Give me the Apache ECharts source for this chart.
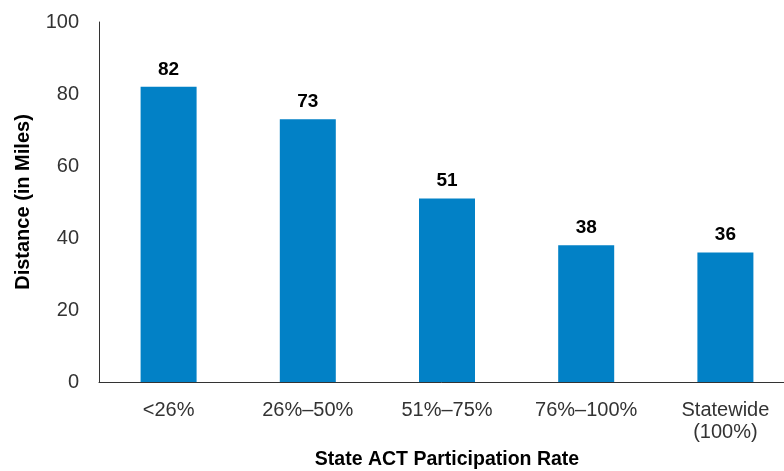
<!DOCTYPE html>
<html>
<head>
<meta charset="utf-8">
<script src="https://cdn.jsdelivr.net/npm/echarts@6/dist/echarts.min.js"></script>
<style>html,body{margin:0;padding:0;background:#fff}#c{width:784px;height:471px}</style>
</head>
<body>
<div id="c"></div>
<script>
var categories = ['<26%', '26%\u201350%', '51%\u201375%', '76%\u2013100%', 'Statewide\n(100%)'];
var distances = [82, 73, 51, 38, 36];
var yTicks = [0, 20, 40, 60, 80, 100];

var chart = echarts.init(document.getElementById('c'));
var font = '"Liberation Sans", Arial, Helvetica, sans-serif';
chart.setOption({
  animation: false,
  backgroundColor: '#fff',
  grid: { left: 99, top: 22, height: 360, width: 696, outerBoundsMode: 'none', containLabel: false },
  xAxis: {
    type: 'category',
    data: categories,
    name: 'State ACT Participation Rate',
    nameLocation: 'middle',
    nameGap: 68,
    nameTextStyle: { fontFamily: font, fontSize: 19.5, fontWeight: 'bold', color: '#000' },
    axisLine: { lineStyle: { color: '#333', width: 1 } },
    axisTick: { show: false },
    axisLabel: { fontFamily: font, fontSize: 20, color: '#333', margin: 17, lineHeight: 22, interval: 0 }
  },
  yAxis: {
    type: 'value',
    min: yTicks[0],
    max: yTicks[yTicks.length - 1],
    interval: yTicks[1] - yTicks[0],
    name: 'Distance (in Miles)',
    nameLocation: 'middle',
    nameGap: 66,
    nameRotate: 90,
    nameTextStyle: { fontFamily: font, fontSize: 20, fontWeight: 'bold', color: '#000' },
    axisLine: { show: true, lineStyle: { color: '#333', width: 1 } },
    axisTick: { show: false },
    splitLine: { show: false },
    axisLabel: { fontFamily: font, fontSize: 20, color: '#333', margin: 20 }
  },
  series: [{
    type: 'bar',
    data: distances,
    barWidth: 56,
    itemStyle: { color: '#0281c6' },
    label: { show: true, position: 'top', distance: 8, fontFamily: font, fontSize: 19, fontWeight: 'bold', color: '#000' }
  }]
});
</script>
</body>
</html>
